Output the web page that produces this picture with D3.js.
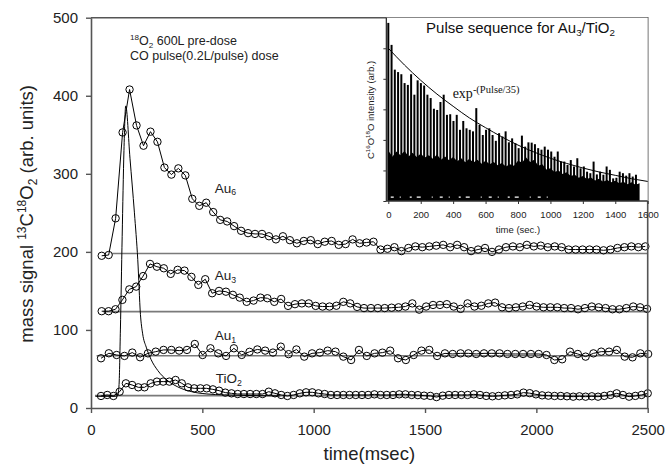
<!DOCTYPE html>
<html>
<head>
<meta charset="utf-8">
<script src="https://cdn.jsdelivr.net/npm/d3@7"></script>
<style>
    body { margin: 0; background: #fff; }
    svg { display: block; font-family: "Liberation Sans", Arial, sans-serif; }
</style>
</head>
<body>
<div id="chart"></div>
<script>
// main panel: mass signal vs time (msec), one sample per pulse step
const au6Start = 48, au6Step = 31.3;
const au6Values = [195, 196, 243, 353, 408, 362, 336, 354, 341, 308,
    299, 307, 298, 268, 259, 263, 251, 241, 239, 233,
    227, 224, 223, 223, 220, 216, 220, 215, 211, 214,
    215, 210, 213, 214, 209, 210, 216, 211, 212, 213,
    203, 204, 206, 201, 205, 207, 206, 207, 208, 209,
    206, 209, 206, 201, 203, 205, 200, 203, 206, 207,
    206, 209, 207, 208, 206, 207, 206, 203, 203, 203,
    203, 203, 202, 203, 205, 206, 207, 206, 207];

const au3Start = 48, au3Step = 31;
const au3Values = [124, 124, 126.5, 138.5, 152, 155.5, 169, 184.6, 181, 179,
    171.8, 177, 176, 168, 157.7, 165, 147, 150, 149, 145,
    141.4, 136, 137.6, 141.4, 140.6, 136, 139.7, 130.8, 133, 134,
    134, 130.8, 130, 130, 131, 136, 134, 129.5, 128, 128,
    128, 128, 128.5, 129, 130, 134, 126, 130, 132, 132,
    133, 130, 127, 134, 130, 131, 134, 135, 129, 128,
    129, 130, 132, 130, 129, 129, 129, 128, 128, 126.5,
    128, 130, 129, 128, 126.5, 126.5, 128, 130, 129, 127];

const au1Start = 45, au1Step = 35.1;
const au1Values = [63.7, 70.1, 67.9, 66.7, 71, 65, 70, 72.2, 74.4, 74.4,
    73.5, 74.4, 82, 67.9, 76.5, 70, 66.7, 76.5, 68, 72,
    75, 73.5, 71, 78.6, 69, 75, 65.8, 70, 70.9, 73.5,
    72.2, 65.8, 61.5, 74.4, 66.7, 70, 70.9, 73.5, 63.7, 61.5,
    67.9, 73.5, 74.4, 66.7, 70, 69.2, 70, 70, 69.2, 70,
    70, 70, 69.2, 69.2, 69.2, 69.2, 69.2, 67.9, 61.5, 62.4,
    72.2, 69.2, 65.8, 70, 72.2, 72.2, 74.4, 65.8, 64.9, 70,
    69.2];

const tio2Start = 45, tio2Step = 27.9;
const tio2Values = [15.4, 16.7, 15.4, 20.9, 31.6, 29.5, 26.5, 26.5, 31.6, 33.8,
    33.8, 33.8, 35.9, 31.6, 26.5, 25.2, 25.2, 25.2, 23.9, 22.2,
    19.7, 18.8, 17.9, 17.9, 17.9, 17.9, 17.9, 20.9, 18.8, 16.7,
    15.4, 16.7, 18.8, 20.1, 20.1, 18.8, 17.9, 16.7, 16.7, 16.7,
    16.7, 16.7, 16.7, 16.7, 17.5, 16.7, 16.7, 16.7, 17.5, 17.5,
    16.7, 16.5, 15.8, 15.5, 14, 15.8, 16.7, 16.7, 16.7, 16.7,
    17.5, 16.7, 15.5, 15, 15.5, 16.2, 16.7, 17.5, 19.7, 19,
    17.5, 16.2, 15.8, 15.4, 15.4, 15, 14.5, 15, 14.5, 15,
    14.5, 15.5, 16.7, 18.8, 16.7, 14.5, 15.5, 16.7, 18.8];

// CO pulse shape (thin line, no markers)
const pulseTimes = [20, 110, 120, 126, 132, 140, 148, 156, 175, 195, 210, 222, 232,
    248, 270, 300, 340, 390, 450, 520, 600, 700, 850];
const pulseValues = [15, 15, 16, 30, 100, 220, 330, 387, 320, 250, 190, 120, 95,
    78, 62, 48, 36, 27, 21, 18, 16.8, 16, 15.5];

// pre-pulse baselines
const baseNames = ["Au6", "Au3", "Au1", "TiO2"];
const baseLevels = [198, 123.5, 67, 15.8];
const baseStarts = [95, 55, 25, 18];

const xTicks = [0, 500, 1000, 1500, 2000, 2500];
const yTicks = [0, 100, 200, 300, 400, 500];

// inset: pulse sequence for Au3/TiO2
const spikeStart = 0, spikeStep = 20.1;
const spikeHeights = [5.83, 5.11, 4.30, 4.22, 4.15, 3.86, 3.80, 4.15, 3.48, 3.95,
    3.86, 3.78, 3.48, 3.37, 3.02, 2.98, 3.24, 3.48, 2.82, 2.84,
    2.62, 2.82, 2.33, 2.62, 2.38, 2.33, 2.28, 3.04, 2.49, 2.16,
    2.33, 2.38, 2.16, 1.97, 2.22, 2.11, 2.28, 1.92, 2.05, 1.89,
    1.73, 2.14, 1.78, 1.92, 1.91, 1.86, 1.73, 1.68, 1.78, 1.68,
    1.62, 1.45, 1.62, 1.29, 1.29, 1.18, 1.34, 1.13, 1.40, 1.07,
    1.13, 0.96, 0.91, 1.29, 0.87, 0.96, 0.86, 1.13, 1.02, 0.74,
    0.76, 0.96, 0.91, 0.83, 0.91, 0.80, 0.86];

const bandStep = 25;
const bandTop = [1.65, 1.45, 1.62, 1.50, 1.64, 1.46, 1.58, 1.44, 1.55, 1.42,
    1.50, 1.38, 1.52, 1.35, 1.46, 1.33, 1.44, 1.30, 1.40, 1.27,
    1.38, 1.26, 1.35, 1.22, 1.32, 1.20, 1.28, 1.17, 1.24, 1.13,
    1.20, 1.15, 1.32, 1.26, 1.42, 1.28, 1.35, 1.15, 1.20, 1.03,
    1.07, 0.95, 1.00, 0.88, 0.94, 0.82, 0.86, 0.76, 0.82, 0.72,
    0.77, 0.67, 0.73, 0.63, 0.69, 0.61, 0.66, 0.58, 0.63, 0.55,
    0.61, 0.53, 0.58];

const fitTimes = [0, 100, 200, 300, 400, 500, 600, 700, 800, 900, 1000, 1100, 1200, 1300, 1400, 1500, 1600];
const fitValues = [5.0, 4.45, 3.95, 3.5, 3.1, 2.72, 2.4, 2.1, 1.83, 1.6, 1.4, 1.23, 1.08, 0.95, 0.84, 0.73, 0.64];

const insetXTicks = [0, 200, 400, 600, 800, 1000, 1200, 1400, 1600];
const insetYTicks = [0, 1, 2, 3, 4, 5];

const width = 667;
const height = 472;

const x = d3.scaleLinear().domain([0, 2500]).range([91, 647.7]);
const y = d3.scaleLinear().domain([0, 500]).range([408, 17.7]);

const ix = d3.scaleLinear().domain([0, 1600]).range([388.3, 647.7]);
const iy = d3.scaleLinear().domain([0, 6]).range([201, 17.7]);

const svg = d3.select("#chart")
    .append("svg")
    .attr("width", width)
    .attr("height", height)
    .attr("viewBox", [0, 0, width, height]);

function rich(sel, parts, size) {
    let shift = 0;
    parts.forEach((p) => {
        const target = p.sup ? -0.4 * size : p.sub ? 0.2 * size : 0;
        sel.append("tspan")
            .attr("dy", target - shift)
            .attr("font-size", p.sup || p.sub ? size * 0.65 : size)
            .text(p.t);
        shift = target;
    });
    return sel;
}

function toPoints(start, step, values) {
    return values.map((v, i) => ({ t: start + i * step, v }));
}

// baselines
svg.append("g")
    .selectAll("line")
    .data(baseLevels)
    .join("line")
    .attr("x1", (d, i) => x(baseStarts[i]))
    .attr("x2", x(2500))
    .attr("y1", (d) => y(d))
    .attr("y2", (d) => y(d))
    .attr("stroke", "#7a7a7a")
    .attr("stroke-width", 1.6);

// pulse curve
const pulseData = pulseTimes.map((t, i) => ({ t, v: pulseValues[i] }));
svg.append("path")
    .datum(pulseData)
    .attr("fill", "none")
    .attr("stroke", "#000")
    .attr("stroke-width", 1)
    .attr("d", d3.line().x((d) => x(d.t)).y((d) => y(d.v)).curve(d3.curveMonotoneX));

// series
const series = [
    toPoints(au6Start, au6Step, au6Values),
    toPoints(au3Start, au3Step, au3Values),
    toPoints(au1Start, au1Step, au1Values),
    toPoints(tio2Start, tio2Step, tio2Values)
];
const line = d3.line().x((d) => x(d.t)).y((d) => y(d.v));

series.forEach((data) => {
    const g = svg.append("g");
    g.append("path")
        .datum(data)
        .attr("fill", "none")
        .attr("stroke", "#000")
        .attr("stroke-width", 1)
        .attr("d", line);
    g.selectAll("circle")
        .data(data)
        .join("circle")
        .attr("cx", (d) => x(d.t))
        .attr("cy", (d) => y(d.v))
        .attr("r", 3.7)
        .attr("fill", "none")
        .attr("stroke", "#000")
        .attr("stroke-width", 1);
});

// main axes
const axisColor = "#555";
const fmt = d3.format("d");
svg.append("g")
    .attr("transform", `translate(0,${y(0)})`)
    .call(d3.axisBottom(x).tickValues(xTicks).tickFormat(fmt).tickSizeOuter(0).tickSizeInner(5).tickPadding(11))
    .call((g) => g.select(".domain").attr("stroke", axisColor).attr("stroke-width", 1.6))
    .call((g) => g.selectAll(".tick line").attr("stroke", axisColor).attr("stroke-width", 1.4))
    .call((g) => g.selectAll(".tick text")
        .attr("font-family", "Liberation Sans, Arial, sans-serif")
        .attr("font-size", 15)
        .attr("fill", "#222"));

svg.append("g")
    .attr("transform", `translate(${x(0)},0)`)
    .call(d3.axisLeft(y).tickValues(yTicks).tickFormat(fmt).tickSizeOuter(0).tickSizeInner(5).tickPadding(8))
    .call((g) => g.select(".domain").attr("stroke", axisColor).attr("stroke-width", 1.6))
    .call((g) => g.selectAll(".tick line").attr("stroke", axisColor).attr("stroke-width", 1.4))
    .call((g) => g.selectAll(".tick text")
        .attr("font-family", "Liberation Sans, Arial, sans-serif")
        .attr("font-size", 15)
        .attr("fill", "#222"));

// top and right frame
svg.append("path")
    .attr("d", `M${x(0)},${y(500)}H${x(2500)}V${y(0)}`)
    .attr("fill", "none")
    .attr("stroke", axisColor)
    .attr("stroke-width", 1.6);

// axis titles
rich(svg.append("text")
    .attr("transform", `translate(33,${(y(0) + y(500)) / 2 + 1}) rotate(-90)`)
    .attr("text-anchor", "middle")
    .attr("fill", "#222"),
    [{ t: "mass signal " }, { t: "13", sup: true }, { t: "C" }, { t: "18", sup: true },
     { t: "O" }, { t: "2", sub: true }, { t: " (arb. units)" }], 18.5);

svg.append("text")
    .attr("x", (x(0) + x(2500)) / 2)
    .attr("y", 460)
    .attr("text-anchor", "middle")
    .attr("font-size", 18.5)
    .attr("fill", "#222")
    .text("time(msec)");

// annotation
rich(svg.append("text").attr("x", 130).attr("y", 45).attr("fill", "#222"),
    [{ t: "18", sup: true }, { t: "O" }, { t: "2", sub: true }, { t: " 600L pre-dose" }], 12.5);
svg.append("text")
    .attr("x", 130)
    .attr("y", 59.5)
    .attr("font-size", 12.5)
    .attr("fill", "#222")
    .text("CO pulse(0.2L/pulse) dose");

// series labels
const labelSpots = [
    { t: 556, v: 276, parts: [{ t: "Au" }, { t: "6", sub: true }] },
    { t: 556, v: 164, parts: [{ t: "Au" }, { t: "3", sub: true }] },
    { t: 556, v: 87, parts: [{ t: "Au" }, { t: "1", sub: true }] },
    { t: 560, v: 32, parts: [{ t: "TiO" }, { t: "2", sub: true }] }
];
labelSpots.forEach((d) => {
    rich(svg.append("text").attr("x", x(d.t)).attr("y", y(d.v)).attr("fill", "#222"), d.parts, 13.5);
});

// ---- inset ----
const inset = svg.append("g");

inset.append("rect")
    .attr("x", ix(-12))
    .attr("y", iy(6))
    .attr("width", ix(1600) - ix(-12))
    .attr("height", iy(0) - iy(6))
    .attr("fill", "#fff");

// dense band under the spikes
const bandData = bandTop.map((v, i) => ({ t: i * bandStep, v }));
inset.append("path")
    .datum(bandData)
    .attr("fill", "#000")
    .attr("d", d3.area().x((d) => ix(d.t)).y0(iy(0)).y1((d) => iy(d.v)));

inset.append("g")
    .selectAll("line")
    .data(spikeHeights)
    .join("line")
    .attr("x1", (d, i) => ix(spikeStart + i * spikeStep))
    .attr("x2", (d, i) => ix(spikeStart + i * spikeStep))
    .attr("y1", iy(0))
    .attr("y2", (d) => iy(d))
    .attr("stroke", "#000")
    .attr("stroke-width", 2);

// speckles near the floor of the band
inset.append("line")
    .attr("x1", ix(15))
    .attr("x2", ix(1010))
    .attr("y1", iy(0.13))
    .attr("y2", iy(0.13))
    .attr("stroke", "#fff")
    .attr("stroke-width", 1.2)
    .attr("stroke-dasharray", "3,6,1,9,2,5,4,11,1,7");

const fitData = fitTimes.map((t, i) => ({ t, v: fitValues[i] }));
inset.append("path")
    .datum(fitData)
    .attr("fill", "none")
    .attr("stroke", "#000")
    .attr("stroke-width", 1)
    .attr("d", d3.line().x((d) => ix(d.t)).y((d) => iy(d.v)).curve(d3.curveMonotoneX));

inset.append("g")
    .attr("transform", `translate(0,${iy(0)})`)
    .call(d3.axisBottom(ix).tickValues(insetXTicks).tickFormat(fmt).tickSizeOuter(0).tickSizeInner(3).tickPadding(7.5))
    .call((g) => g.select(".domain").remove())
    .call((g) => g.selectAll(".tick line").attr("stroke", "#333"))
    .call((g) => g.selectAll(".tick text")
        .attr("font-family", "Liberation Sans, Arial, sans-serif")
        .attr("font-size", 9.5)
        .attr("fill", "#222"));

inset.append("g")
    .attr("transform", `translate(${ix(-12)},0)`)
    .call(d3.axisLeft(iy).tickValues(insetYTicks).tickSizeOuter(0).tickSizeInner(3).tickFormat(""))
    .call((g) => g.select(".domain").remove())
    .call((g) => g.selectAll(".tick line").attr("stroke", "#333"));

inset.append("path")
    .attr("d", `M${ix(-12)},${iy(6)}V${iy(0)}H${ix(1600)}`)
    .attr("fill", "none")
    .attr("stroke", "#333")
    .attr("stroke-width", 1.3);

rich(inset.append("text").attr("x", ix(233)).attr("y", iy(5.49)).attr("fill", "#111"),
    [{ t: "Pulse sequence for Au" }, { t: "3", sub: true }, { t: "/TiO" }, { t: "2", sub: true }], 15);

const fitLabel = inset.append("text")
    .attr("x", ix(397))
    .attr("y", iy(3.36))
    .attr("font-family", "Liberation Serif, Times New Roman, serif")
    .attr("fill", "#111");
fitLabel.append("tspan").attr("font-size", 14).text("exp");
fitLabel.append("tspan").attr("font-size", 10.5).attr("dy", -5.5).text("-(Pulse/35)");

rich(inset.append("text")
    .attr("transform", `translate(374,110) rotate(-90)`)
    .attr("text-anchor", "middle")
    .attr("fill", "#222"),
    [{ t: "C" }, { t: "16", sup: true }, { t: "O" }, { t: "18", sup: true }, { t: "O intensity (arb.)" }], 9.5);

inset.append("text")
    .attr("x", ix(800))
    .attr("y", 232.5)
    .attr("text-anchor", "middle")
    .attr("font-size", 9.5)
    .attr("fill", "#222")
    .text("time (sec.)");
</script>
</body>
</html>
